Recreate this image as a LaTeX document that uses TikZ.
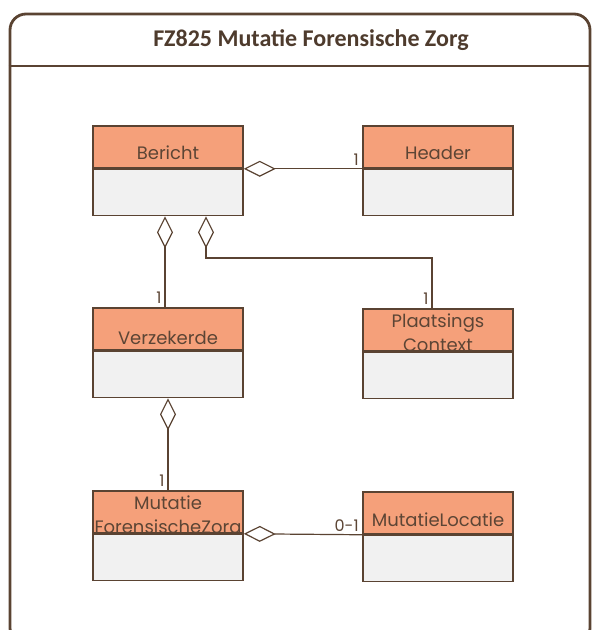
\documentclass[tikz,border=0pt]{standalone}
\usepackage{fontspec}
\setmainfont{Poppins}
\newfontfamily\titlefont{Carlito}
\usetikzlibrary{positioning,arrows.meta}
\definecolor{umlline}{HTML}{5A4332}
\definecolor{umlhead}{HTML}{F5A07A}
\definecolor{umlbody}{HTML}{F1F1F1}
\definecolor{umltext}{HTML}{5C4535}

\begin{document}
\begin{tikzpicture}[
  x=1pt, y=-1pt,
  frame/.style = {draw=umlline, line width=2.8pt, rounded corners=16pt, minimum width=580pt, minimum height=630pt},
  frame_line/.style = {draw=umlline, line width=2.8pt},
  head/.style = {rectangle, draw=umlline, fill=umlhead, line width=1.5pt, minimum width=150pt, minimum height=42pt, inner sep=0pt},
  body/.style = {rectangle, draw=umlline, fill=umlbody, line width=1.5pt, minimum width=150pt, minimum height=46pt, inner sep=0pt},
  classname/.style = {text=umltext, font=\fontsize{18}{24}\selectfont, align=center, inner sep=0pt, anchor=base},
  mult/.style = {text=umltext, font=\fontsize{16}{18}\selectfont, inner sep=3pt},
  agg/.style = {draw=umlline, line width=1.2pt, -{Diamond[open, length=32pt, width=16pt]}}
  ]

  \useasboundingbox (0,0) rectangle (592,630);
  \clip (0,0) rectangle (592,630);

  \node[frame] (kader) at (300,329) {};
  \coordinate (scheiding) at (0,66);
  \draw[frame_line] (kader.west |- scheiding) -- (kader.east |- scheiding);
  \node[text=umltext!85!black, font=\titlefont\bfseries\fontsize{24}{28}\selectfont] (titel) at (311,40) {FZ825 Mutatie Forensische Zorg};

  % classes
  \node[head] (bericht) at (168,147) {};
  \node[classname] at ([yshift=-12pt]bericht.center) {Bericht};
  \node[body, below=0pt of bericht] (berichtB) {};

  \node[head] (header) at (438,147) {};
  \node[classname] at ([yshift=-12pt]header.center) {Header};
  \node[body, below=0pt of header] (headerB) {};

  \node[head] (verzekerde) at (168,329) {};
  \node[classname] at ([yshift=-15pt]verzekerde.center) {Verzekerde};
  \node[body, below=0pt of verzekerde] (verzekerdeB) {};

  \node[head] (plaatsings) at (438,330) {};
  \node[classname] at ([yshift=-21.5pt]plaatsings.center) {Plaatsings\\Context};
  \node[body, below=0pt of plaatsings] (plaatsingsB) {};

  \node[head] (mutatie) at (168,512) {};
  \node[classname] at ([yshift=-21pt]mutatie.center) {Mutatie\\ForensischeZorg};
  \node[body, below=0pt of mutatie] (mutatieB) {};

  \node[head] (locatie) at (438,513) {};
  \node[classname] at ([yshift=-13.5pt]locatie.center) {MutatieLocatie};
  \node[body, below=0pt of locatie] (locatieB) {};

  % aggregations
  \draw[agg] (headerB.north west) -- node[mult, pos=0, above left] {1} (berichtB.north east);
  \draw[agg] ([xshift=-3pt]verzekerde.north) -- node[mult, pos=0, above left] {1} ([xshift=-3pt]berichtB.south);
  \coordinate (bocht) at (206,258);
  \draw[agg] ([xshift=-6pt]plaatsings.north) |- node[mult, pos=0, above left] {1} (bocht) -- ([xshift=38pt]berichtB.south);
  \draw[agg] (mutatie.north) -- node[mult, pos=0, above left] {1} (verzekerdeB.south);
  \draw[agg] (locatieB.north west) -- node[mult, pos=0, above left] {0-1} (mutatieB.north east);

\end{tikzpicture}
\end{document}
